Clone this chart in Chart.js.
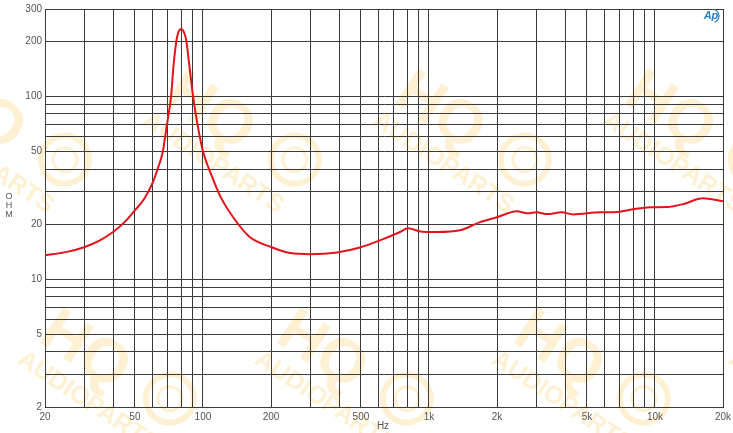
<!DOCTYPE html>
<html>
<head>
<meta charset="utf-8">
<script src="https://cdn.jsdelivr.net/npm/chart.js@4.4.1/dist/chart.umd.min.js"></script>
<style>
  body { margin: 0; background: #fff; }
  #wrap { width: 733px; height: 433px; }
</style>
</head>
<body>
<div id="wrap"><canvas id="impedanceChart" width="733" height="433"></canvas></div>
<script>
// impedance curve
const freqHz = [20, 25, 30, 35, 40, 45, 50, 55, 60, 63, 66.5, 68, 70, 72.3, 74, 76.4, 78.5, 80.3, 82, 84.3,
    87, 90.4, 95, 100, 110, 120, 136, 161, 200, 243, 298, 392, 495, 607, 745, 807, 907, 1086, 1370, 1682,
    2000, 2450, 2717, 3000, 3330, 3880, 4340, 5720, 6790, 8000, 9510, 11300, 13300, 16300, 20000];
const impedanceOhm = [13.5, 14.1, 15.0, 16.3, 18.1, 20.5, 23.8, 27.5, 33.8, 40, 50, 60, 76, 100, 145, 203, 229, 233, 227, 203,
    148, 100, 68, 50, 36, 28, 21.8, 17, 15, 13.9, 13.7, 14.0, 14.9, 16.3, 18.1, 19.0, 18.3, 18.1, 18.5, 20.5,
    21.8, 23.5, 22.9, 23.2, 22.7, 23.2, 22.6, 23.2, 23.3, 24.1, 24.7, 24.8, 25.7, 27.7, 26.7];

const xTickLabels = [20, 50, 100, 200, 500, 1000, 2000, 5000, 10000, 20000];
const yTickLabels = [2, 5, 10, 20, 50, 100, 200, 300];

// grid at 1..9 of each decade
function logGrid(min, max) {
    const out = [];
    for (let d = 1; d <= 100000; d *= 10) {
        for (let m = 1; m < 10; m++) {
            const v = m * d;
            if (v >= min && v <= max) out.push(v);
        }
    }
    if (out[out.length - 1] !== max) out.push(max);
    return out;
}

function fmtHz(v) {
    return v >= 1000 ? (v / 1000) + 'k' : String(v);
}

const watermark = {
    id: 'watermark',
    beforeDraw(chart) {
        const ctx = chart.ctx;
        const spots = [];
        for (let k = -1; k < 4; k++) spots.push([145 + 230 * k, 118]);
        for (let k = 0; k < 4; k++) spots.push([20 + 237 * k, 357]);
        ctx.save();
        ctx.fillStyle = 'rgba(250, 200, 80, 0.25)';
        ctx.strokeStyle = 'rgba(250, 200, 80, 0.25)';
        spots.forEach(([x, y]) => {
            ctx.save();
            ctx.translate(x, y);
            ctx.rotate(33.5 * Math.PI / 180);
            ctx.font = 'bold 62px "Liberation Sans", Arial, sans-serif';
            ctx.textAlign = 'center';
            ctx.textBaseline = 'middle';
            ctx.fillText('HQ', 51, -40);
            ctx.font = 'bold 25px "Liberation Sans", Arial, sans-serif';
            ctx.textAlign = 'left';
            ctx.textBaseline = 'middle';
            ctx.fillText('AUDIOPARTS', 0, 0);
            ctx.lineWidth = 6;
            ctx.beginPath();
            ctx.arc(148, -48, 24, 0, Math.PI * 2);
            ctx.stroke();
            ctx.lineWidth = 3;
            ctx.beginPath();
            ctx.arc(148, -48, 12, 0, Math.PI * 2);
            ctx.stroke();
            ctx.restore();
        });
        ctx.restore();
    },
    afterDraw(chart) {
        const ctx = chart.ctx;
        ctx.save();
        ctx.fillStyle = '#555';
        ctx.font = '9px "Liberation Sans", Arial, sans-serif';
        ctx.textAlign = 'center';
        ctx.textBaseline = 'middle';
        ['O', 'H', 'M'].forEach((c, i) => ctx.fillText(c, 9, 197 + i * 9));
        ctx.font = '10px "Liberation Sans", Arial, sans-serif';
        ctx.fillText('Hz', 383, 426);
        // AP logo
        ctx.fillStyle = '#2a7cc4';
        ctx.strokeStyle = '#2a7cc4';
        ctx.font = 'italic bold 11px "Liberation Sans", Arial, sans-serif';
        ctx.fillText('Ap', 711, 16);
        ctx.lineWidth = 1.2;
        ctx.beginPath();
        ctx.arc(712, 16, 7, -1.2, 1.2);
        ctx.stroke();
        ctx.restore();
    }
};

new Chart(document.getElementById('impedanceChart'), {
    type: 'line',
    data: {
        datasets: [{
            label: 'Impedance',
            data: freqHz.map((f, i) => ({ x: f, y: impedanceOhm[i] })),
            borderColor: '#e3131b',
            borderWidth: 2,
            pointRadius: 0,
            cubicInterpolationMode: 'monotone',
            fill: false
        }]
    },
    options: {
        responsive: false,
        animation: false,
        layout: { padding: { top: 9, right: 10, left: 0, bottom: 0 } },
        plugins: { legend: { display: false }, tooltip: { enabled: false } },
        scales: {
            x: {
                type: 'logarithmic',
                min: 20,
                max: 20000,
                afterBuildTicks: s => { s.ticks = logGrid(20, 20000).map(v => ({ value: v })); },
                afterFit: s => { s.height = 26; s.paddingLeft = 0; s.paddingRight = 0; },
                grid: { color: '#3a3a3a', lineWidth: 1, drawTicks: false },
                border: { color: '#3a3a3a' },
                ticks: {
                    autoSkip: false,
                    maxRotation: 0,
                    minRotation: 0,
                    padding: 4,
                    color: '#555',
                    font: { size: 10, family: '"Liberation Sans", Arial, sans-serif' },
                    callback: v => xTickLabels.includes(v) ? fmtHz(v) : ''
                }
            },
            y: {
                type: 'logarithmic',
                min: 2,
                max: 300,
                afterBuildTicks: s => { s.ticks = logGrid(2, 300).map(v => ({ value: v })); },
                afterFit: s => { s.width = 45; s.paddingTop = 0; s.paddingBottom = 0; },
                grid: { color: '#3a3a3a', lineWidth: 1, drawTicks: false },
                border: { color: '#3a3a3a' },
                ticks: {
                    autoSkip: false,
                    padding: 3,
                    color: '#555',
                    font: { size: 10, family: '"Liberation Sans", Arial, sans-serif' },
                    callback: v => yTickLabels.includes(v) ? String(v) : ''
                }
            }
        }
    },
    plugins: [watermark]
});
</script>
</body>
</html>
